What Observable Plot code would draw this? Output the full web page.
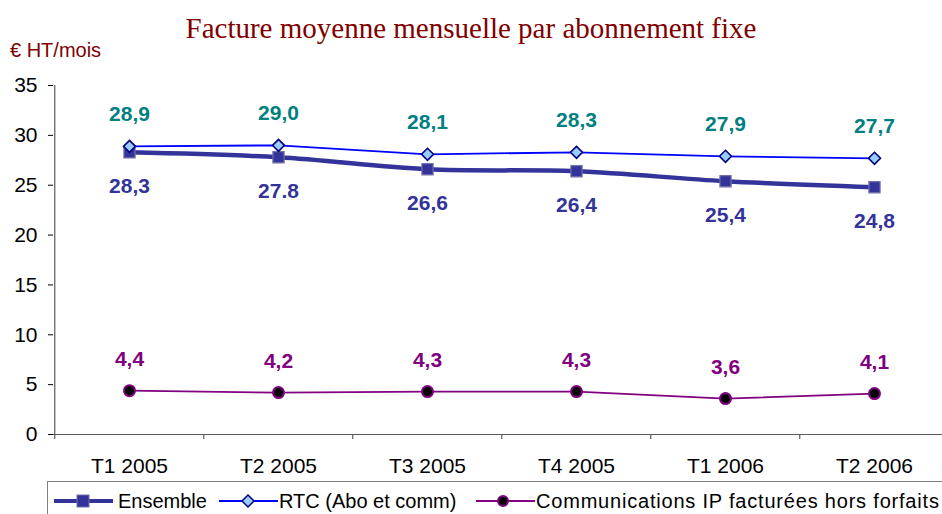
<!DOCTYPE html>
<html>
<head>
<meta charset="utf-8">
<script src="https://cdn.jsdelivr.net/npm/d3@7"></script>
<script src="https://cdn.jsdelivr.net/npm/@observablehq/plot@0.6"></script>
<style>
  html, body { margin: 0; padding: 0; background: #fff; overflow: hidden; }
  #wrap { position: relative; width: 942px; height: 514px; font-family: "Liberation Sans", Arial, sans-serif; }
  #title { position: absolute; left: 0; width: 942px; top: 14px; text-align: center; font-family: "Liberation Serif", "Times New Roman", serif; font-size: 29px; line-height: 29px; color: #800000; padding-left: 0px; }
  #unit { position: absolute; left: 10px; top: 40px; font-size: 20px; line-height: 20px; color: #800000; }
  #legend { position: absolute; left: 47px; top: 481px; width: 940px; height: 40px; border: 1px solid #808080; box-sizing: border-box; }
  .li { position: absolute; top: 8px; height: 22px; font-size: 20px; line-height: 22px; color: #000; white-space: nowrap; }
  .sw { position: absolute; top: 10px; }
</style>
</head>
<body>
<div id="wrap">
  <div id="chart"></div>
  <div id="title">Facture moyenne mensuelle par abonnement fixe</div>
  <div id="unit">€ HT/mois</div>
  <div id="legend"></div>
</div>
<script>
const quarters = ["T1 2005", "T2 2005", "T3 2005", "T4 2005", "T1 2006", "T2 2006"];
const ensemble = [28.3, 27.8, 26.6, 26.4, 25.4, 24.8];
const rtc = [28.9, 29.0, 28.1, 28.3, 27.9, 27.7];
const ip = [4.4, 4.2, 4.3, 4.3, 3.6, 4.1];
const ensembleLabels = ["28,3", "27.8", "26,6", "26,4", "25,4", "24,8"];
const rtcLabels = ["28,9", "29,0", "28,1", "28,3", "27,9", "27,7"];
const ipLabels = ["4,4", "4,2", "4,3", "4,3", "3,6", "4,1"];
const yTicks = [0, 5, 10, 15, 20, 25, 30, 35];
const seriesNames = ["Ensemble", "RTC (Abo et comm)", "Communications IP facturées hors forfaits"];

const rows = (vals, labels) => quarters.map((q, i) => ({q, v: vals[i], label: labels[i]}));
const dEns = rows(ensemble, ensembleLabels);
const dRtc = rows(rtc, rtcLabels);
const dIp = rows(ip, ipLabels);

const W = 942, H = 514;
const xRange = [53, 950];
const halfStep = (xRange[1] - xRange[0]) / quarters.length / 2;

const cEns = "#333399", cRtc = "#0000ff", cIp = "#800080";
const axisColor = "#5a5a5a";

const chart = Plot.plot({
  width: W,
  height: H,
  marginTop: 85,
  marginBottom: 80,
  marginLeft: 53,
  marginRight: 0,
  style: {fontSize: "21px", fontFamily: "'Liberation Sans', Arial, sans-serif", color: "#000", background: "transparent"},
  x: {type: "point", domain: quarters, range: xRange, padding: 0.5, tickSize: 0, tickPadding: 24, label: null},
  y: {domain: [0, 35], ticks: yTicks, tickSize: 5, tickPadding: 11, label: null},
  marks: [
    Plot.ruleY([0], {stroke: axisColor, strokeWidth: 1.2}),
    Plot.ruleX([quarters[0]], {x: d => d, y1: 0, y2: 35, dx: -halfStep, stroke: axisColor, strokeWidth: 1.2}),
    Plot.ruleX(quarters, {x: d => d, y1: 0, y2: -0.5, dx: -halfStep, stroke: axisColor, strokeWidth: 1.2}),
    Plot.line(dEns, {x: "q", y: "v", stroke: cEns, strokeWidth: 4.5, curve: "catmull-rom"}),
    Plot.dot(dEns, {x: "q", y: "v", symbol: "square", r: 6.3, fill: cEns, stroke: "#7070a8", strokeWidth: 1.2}),
    Plot.line(dRtc, {x: "q", y: "v", stroke: cRtc, strokeWidth: 1.8}),
    Plot.dot(dRtc, {x: "q", y: "v", symbol: "diamond2", r: 5.4, fill: "#99ccff", stroke: "#000080", strokeWidth: 1.6}),
    Plot.line(dIp, {x: "q", y: "v", stroke: cIp, strokeWidth: 1.8}),
    Plot.dot(dIp, {x: "q", y: "v", r: 5.5, fill: "#000", stroke: cIp, strokeWidth: 2}),
    Plot.text(dEns, {x: "q", y: "v", text: "label", dy: 34, fill: cEns, fontSize: 21, fontWeight: "bold"}),
    Plot.text(dRtc, {x: "q", y: "v", text: "label", dy: -32, fill: "#008080", fontSize: 21, fontWeight: "bold"}),
    Plot.text(dIp, {x: "q", y: "v", text: "label", dy: -31, fill: cIp, fontSize: 21, fontWeight: "bold"})
  ]
});
document.getElementById("chart").appendChild(chart);

// Legend
const legend = document.getElementById("legend");
const items = [
  {name: seriesNames[0], color: cEns, lineW: 4, sx: 6, tx: 70, sym: "square"},
  {name: seriesNames[1], color: cRtc, lineW: 1.8, sx: 171, tx: 231, sym: "diamond"},
  {name: seriesNames[2], color: cIp, lineW: 1.8, sx: 428, tx: 488, sym: "circle"}
];
items.forEach(it => {
  const ns = "http://www.w3.org/2000/svg";
  const svg = document.createElementNS(ns, "svg");
  svg.setAttribute("width", 60); svg.setAttribute("height", 18);
  svg.setAttribute("class", "sw");
  svg.style.left = it.sx + "px";
  const ln = document.createElementNS(ns, "line");
  ln.setAttribute("x1", 0); ln.setAttribute("x2", 59); ln.setAttribute("y1", 9); ln.setAttribute("y2", 9);
  ln.setAttribute("stroke", it.color); ln.setAttribute("stroke-width", it.lineW);
  svg.appendChild(ln);
  let m;
  if (it.sym === "square") {
    m = document.createElementNS(ns, "rect");
    m.setAttribute("x", 23); m.setAttribute("y", 3); m.setAttribute("width", 12); m.setAttribute("height", 12);
    m.setAttribute("fill", cEns); m.setAttribute("stroke", "#7070a8");
  } else if (it.sym === "diamond") {
    m = document.createElementNS(ns, "path");
    m.setAttribute("d", "M29,3L35,9L29,15L23,9Z");
    m.setAttribute("fill", "#99ccff"); m.setAttribute("stroke", "#000080"); m.setAttribute("stroke-width", 1.5);
  } else {
    m = document.createElementNS(ns, "circle");
    m.setAttribute("cx", 27); m.setAttribute("cy", 9); m.setAttribute("r", 5);
    m.setAttribute("fill", "#000"); m.setAttribute("stroke", cIp); m.setAttribute("stroke-width", 2);
  }
  svg.appendChild(m);
  legend.appendChild(svg);
  const t = document.createElement("div");
  t.className = "li";
  t.style.left = it.tx + "px";
  t.textContent = it.name;
  if (it.sym === "circle") t.style.letterSpacing = "0.8px";
  legend.appendChild(t);
});
document.getElementById("chart").firstChild.style.position = "absolute";
</script>
</body>
</html>
